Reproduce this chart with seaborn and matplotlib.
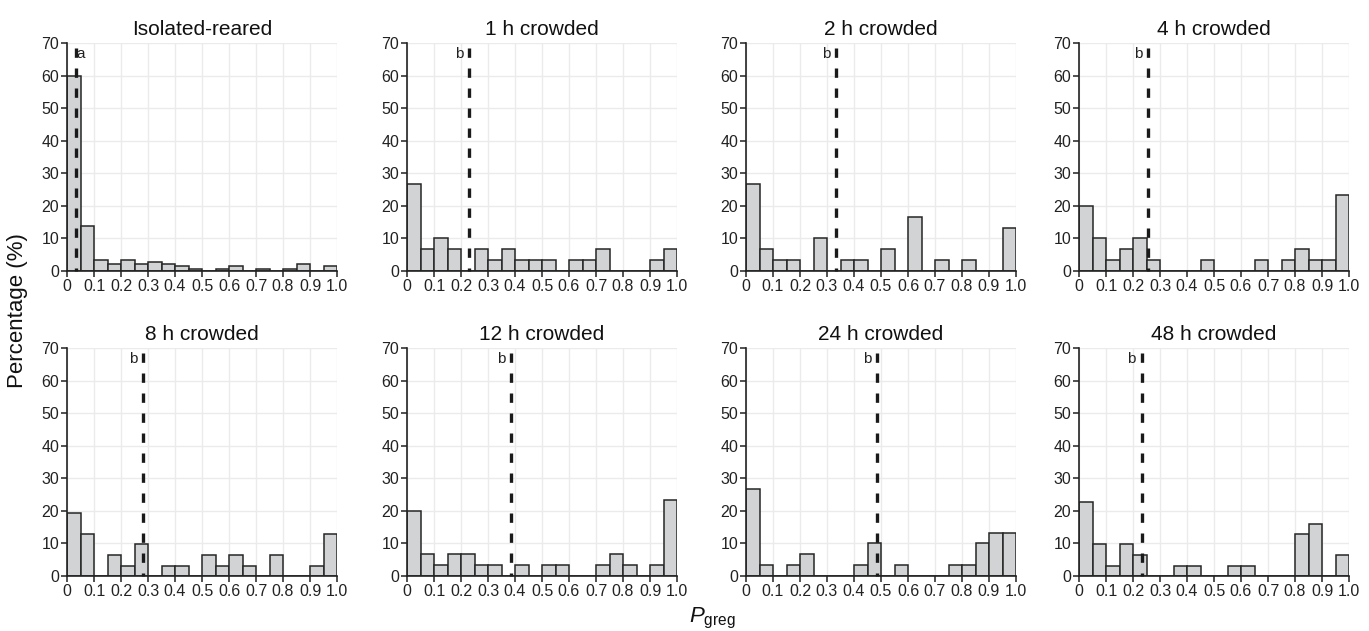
import numpy as np
import pandas as pd
import matplotlib
matplotlib.use("Agg")
import matplotlib.pyplot as plt
import seaborn as sns

# ---- data ----
titles = ["Isolated-reared", "1 h crowded", "2 h crowded", "4 h crowded",
          "8 h crowded", "12 h crowded", "24 h crowded", "48 h crowded"]
bin_edges = [round(0.05 * i, 2) for i in range(21)]

iso = [60, 13.7, 3.5, 2.1, 3.5, 2.1, 2.8, 2.1, 1.4, 0.7, 0, 0.7, 1.4, 0, 0.7, 0, 0.7, 2.1, 0, 1.4]
h1 = [26.7, 6.7, 10, 6.7, 0, 6.7, 3.3, 6.7, 3.3, 3.3, 3.3, 0, 3.3, 3.3, 6.7, 0, 0, 0, 3.3, 6.7]
h2 = [26.7, 6.7, 3.3, 3.3, 0, 10, 0, 3.3, 3.3, 0, 6.7, 0, 16.7, 0, 3.3, 0, 3.3, 0, 0, 13.3]
h4 = [20, 10, 3.3, 6.7, 10, 3.3, 0, 0, 0, 3.3, 0, 0, 0, 3.3, 0, 3.3, 6.7, 3.3, 3.3, 23.3]
h8 = [19.4, 12.9, 0, 6.5, 3.2, 9.7, 0, 3.2, 3.2, 0, 6.5, 3.2, 6.5, 3.2, 0, 6.5, 0, 0, 3.2, 12.9]
h12 = [20, 6.7, 3.3, 6.7, 6.7, 3.3, 3.3, 0, 3.3, 0, 3.3, 3.3, 0, 0, 3.3, 6.7, 3.3, 0, 3.3, 23.3]
h24 = [26.7, 3.3, 0, 3.3, 6.7, 0, 0, 0, 3.3, 10, 0, 3.3, 0, 0, 0, 3.3, 3.3, 10, 13.3, 13.3]
h48 = [22.6, 9.7, 3.2, 9.7, 6.5, 0, 0, 3.2, 3.2, 0, 0, 3.2, 3.2, 0, 0, 0, 12.9, 16.1, 0, 6.5]
series = [iso, h1, h2, h4, h8, h12, h24, h48]

means = [0.033, 0.231, 0.335, 0.256, 0.282, 0.385, 0.485, 0.232]
letters = ["a", "b", "b", "b", "b", "b", "b", "b"]

xtick_vals = [round(0.1 * i, 1) for i in range(11)]
xtick_labels = ["0", "0.1", "0.2", "0.3", "0.4", "0.5", "0.6", "0.7", "0.8", "0.9", "1.0"]
ytick_vals = [0, 10, 20, 30, 40, 50, 60, 70]

# ---- style ----
sns.set_style("white")
plt.rcParams['font.family'] = ['Liberation Sans', 'DejaVu Sans']
plt.rcParams['mathtext.fontset'] = 'custom'
plt.rcParams['mathtext.rm'] = 'Liberation Sans'
plt.rcParams['mathtext.it'] = 'Liberation Sans:italic'

W, H = 1369, 631
fig = plt.figure(figsize=(W / 100, H / 100), dpi=100)

lefts = [67, 407, 746, 1079]
tops = [43, 348]
aw, ah = 270, 228

centers = [(bin_edges[i] + bin_edges[i + 1]) / 2 for i in range(20)]

for k, (title, vals) in enumerate(zip(titles, series)):
    r, c = divmod(k, 4)
    ax = fig.add_axes([lefts[c] / W, 1 - (tops[r] + ah) / H, aw / W, ah / H])
    df = pd.DataFrame({"x": centers, "w": vals})
    sns.histplot(data=df, x="x", weights="w", bins=bin_edges, ax=ax,
                 color="#d1d3d4", edgecolor="#262626", linewidth=1.1, alpha=1,
                 zorder=2)
    ax.set_xlim(0, 1.0)
    ax.set_ylim(0, 70)
    ax.set_xticks(xtick_vals)
    ax.set_xticklabels(xtick_labels)
    ax.set_yticks(ytick_vals)
    ax.grid(True, color="#ebebeb", linewidth=1.0, zorder=0)
    ax.set_axisbelow(True)
    for s in ["top", "right"]:
        ax.spines[s].set_visible(False)
    for s in ["left", "bottom"]:
        ax.spines[s].set_color("#222222")
        ax.spines[s].set_linewidth(1.2)
    ax.tick_params(axis="both", which="both", direction="out", length=4, width=1.1,
                   color="#222222", labelsize=11.5, pad=1.5, labelcolor="#222222",
                   bottom=True, left=True)
    ax.set_xlabel("")
    ax.set_ylabel("")
    ax.set_title(title, fontsize=15, pad=6, color="#111111")

    m = means[k]
    # dashed mean line drawn from the top down so the pattern starts at the top
    ax.plot([m, m], [68.5, 0], color="#1a1a1a", linewidth=2.4,
            linestyle=(0, (2.8, 3.2)), zorder=4, solid_capstyle="butt",
            dash_capstyle="butt", clip_on=False)
    if letters[k] == "a":
        ax.text(m + 0.002, 66.5, letters[k], ha="left", va="center",
                fontsize=11, color="#222222", zorder=5)
    else:
        ax.text(m - 0.022, 66.5, letters[k], ha="right", va="center",
                fontsize=11, color="#222222", zorder=5)

fig.text(18 / W, 1 - 311 / H, "Percentage (%)", rotation=90, ha="center",
         va="center", fontsize=16, color="#111111")
fig.text(689 / W, 1 - 622 / H, r"$\mathit{P}_{\mathrm{greg}}$", ha="left", va="baseline",
         fontsize=16, color="#111111")

fig.savefig("out.png", dpi=100)
